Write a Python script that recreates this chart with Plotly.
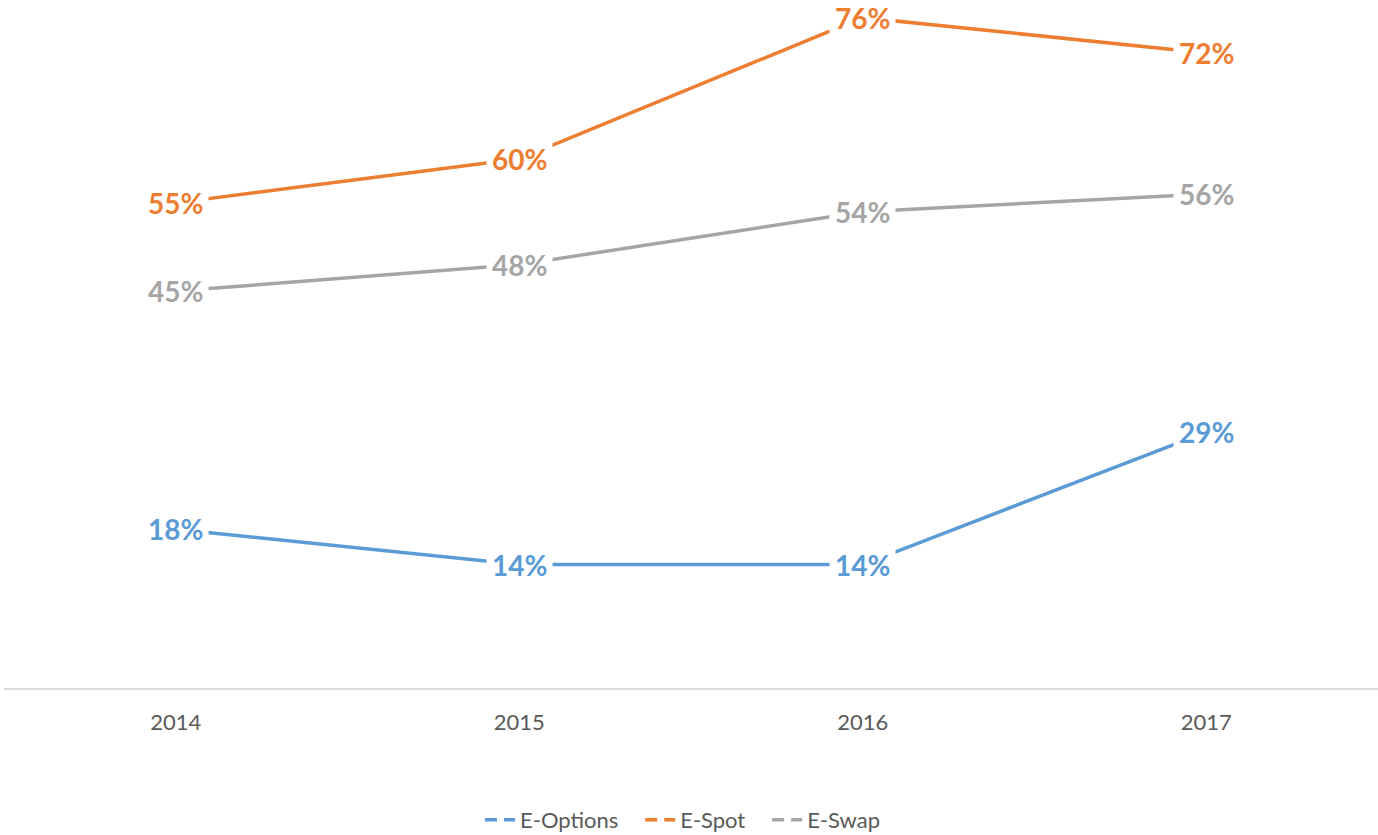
import plotly.graph_objects as go

years = ["2014", "2015", "2016", "2017"]
e_options = [18, 14, 14, 29]
e_spot = [55, 60, 76, 72]
e_swap = [45, 48, 54, 56]

series = [
    ("E-Options", e_options, "#5B9BD5"),
    ("E-Spot", e_spot, "#ED7D31"),
    ("E-Swap", e_swap, "#A5A5A5"),
]

fig = go.Figure()
annotations = []
for name, vals, color in series:
    fig.add_trace(go.Scatter(
        x=years, y=[v / 100 for v in vals], name=name,
        mode="lines", line=dict(color=color, width=3.5),
        cliponaxis=False, hoverinfo="skip", showlegend=False,
    ))
    # legend swatch: a line broken in the middle
    fig.add_trace(go.Scatter(
        x=[None], y=[None], name=name + "   ", mode="lines",
        line=dict(color=color, width=3.5, dash="12px,7px,12px"),
        hoverinfo="skip",
    ))
    # value labels sit on the points, boxed in white so the line stops short of them
    for i, v in enumerate(vals):
        annotations.append(dict(
            x=i, y=v / 100, xref="x", yref="y",
            text=f"<b>{v}%</b>", showarrow=False,
            font=dict(family="Lato", size=28, color=color),
            bgcolor="white", borderpad=5,
        ))

fig.update_layout(
    width=1378, height=835,
    margin=dict(l=4, r=0, t=0, b=147, autoexpand=False),
    plot_bgcolor="white", paper_bgcolor="white",
    showlegend=True,
    legend=dict(
        orientation="h", x=0.5, xanchor="center",
        yref="container", y=0.018, yanchor="middle",
        font=dict(family="Lato", size=22, color="#595959"),
    ),
    annotations=annotations,
    xaxis=dict(
        type="category", range=[-0.5, 3.5],
        showgrid=False, zeroline=False,
        showline=True, linecolor="#D9D9D9", linewidth=2,
        ticks="", ticklabelstandoff=14,
        tickfont=dict(family="Lato", size=22, color="#595959"),
        fixedrange=True,
    ),
    yaxis=dict(
        range=[0, 0.78], visible=False, showgrid=False, zeroline=False,
        fixedrange=True,
    ),
)

fig.write_html("out.html")
